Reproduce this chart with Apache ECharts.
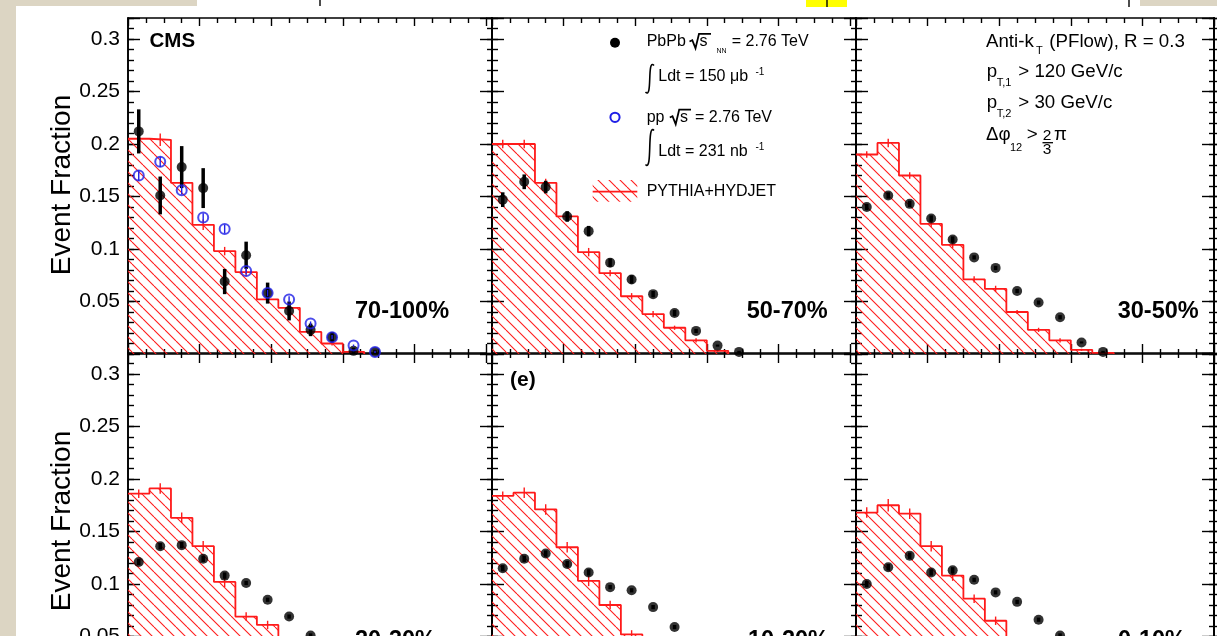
<!DOCTYPE html>
<html>
<head>
<meta charset="utf-8">
<script src="https://cdn.jsdelivr.net/npm/echarts@6/dist/echarts.min.js"></script>
<style>
  html, body { margin: 0; padding: 0; background: #dcd5c3; overflow: hidden; }
  #chart { width: 1217px; height: 720px; }
</style>
</head>
<body>
<div id="chart"></div>
<script>
// Dijet momentum imbalance A_J, bin centres (bin width 0.06)
const ajCenters = [0.03, 0.09, 0.15, 0.21, 0.27, 0.33, 0.39, 0.45, 0.51, 0.57, 0.63, 0.69];
const binWidth = 0.06;

const centralityLabels = ['70-100%', '50-70%', '30-50%', '20-30%', '10-20%', '0-10%'];

// PbPb data (event fraction) and statistical uncertainties per centrality class
const pbpb70100 = [0.212, 0.151, 0.178, 0.158, 0.069, 0.094, 0.058, 0.041, 0.023, 0.016, 0.003, 0.002];
const pbpbErr70100 = [0.021, 0.018, 0.020, 0.019, 0.012, 0.013, 0.010, 0.009, 0.006, 0.005, 0.003, 0.002];
const pbpb5070 = [0.147, 0.164, 0.159, 0.131, 0.117, 0.087, 0.071, 0.057, 0.039, 0.022, 0.008, 0.002];
const pbpbErr5070 = [0.007, 0.007, 0.006, 0.005, 0.005, 0.004, 0.004, 0.003, 0.003, 0.002, 0.001, 0.001];
const pbpb3050 = [0.140, 0.151, 0.143, 0.129, 0.109, 0.092, 0.082, 0.060, 0.049, 0.035, 0.011, 0.002];
const pbpbErr3050 = [0.003, 0.003, 0.003, 0.003, 0.003, 0.002, 0.002, 0.002, 0.002, 0.002, 0.001, 0.001];
const pbpb2030 = [0.121, 0.136, 0.137, 0.124, 0.108, 0.101, 0.085, 0.069, 0.051, 0.036, 0.020, 0.008];
const pbpbErr2030 = [0.003, 0.003, 0.003, 0.003, 0.003, 0.002, 0.002, 0.002, 0.002, 0.002, 0.001, 0.001];
const pbpb1020 = [0.115, 0.124, 0.129, 0.119, 0.111, 0.097, 0.094, 0.078, 0.059, 0.043, 0.024, 0.010];
const pbpbErr1020 = [0.003, 0.003, 0.003, 0.003, 0.003, 0.002, 0.002, 0.002, 0.002, 0.002, 0.001, 0.001];
const pbpb010 = [0.100, 0.116, 0.127, 0.111, 0.113, 0.104, 0.092, 0.083, 0.066, 0.051, 0.030, 0.012];
const pbpbErr010 = [0.003, 0.003, 0.003, 0.003, 0.003, 0.002, 0.002, 0.002, 0.002, 0.002, 0.001, 0.001];

// pp reference at the same energy
const pp276 = [0.170, 0.183, 0.156, 0.130, 0.119, 0.079, 0.058, 0.052, 0.029, 0.016, 0.008, 0.002];
const ppErr276 = [0.005, 0.005, 0.004, 0.004, 0.004, 0.003, 0.003, 0.003, 0.002, 0.002, 0.001, 0.001];

// PYTHIA+HYDJET simulation histograms
const mc70100 = [0.205, 0.204, 0.163, 0.123, 0.098, 0.078, 0.052, 0.044, 0.021, 0.010, 0.002];
const mcErr70100 = [0.005, 0.006, 0.005, 0.005, 0.004, 0.004, 0.003, 0.003, 0.002, 0.002, 0.001];
const mc5070 = [0.200, 0.200, 0.163, 0.131, 0.097, 0.077, 0.055, 0.038, 0.025, 0.013, 0.003];
const mcErr5070 = [0.004, 0.004, 0.004, 0.004, 0.004, 0.003, 0.003, 0.003, 0.002, 0.002, 0.001];
const mc3050 = [0.190, 0.201, 0.170, 0.124, 0.104, 0.071, 0.062, 0.040, 0.023, 0.013, 0.004, 0.001];
const mcErr3050 = [0.003, 0.004, 0.003, 0.003, 0.003, 0.003, 0.003, 0.002, 0.002, 0.002, 0.001, 0.001];
const mc2030 = [0.186, 0.191, 0.163, 0.136, 0.102, 0.069, 0.061, 0.040, 0.024, 0.012, 0.004, 0.001];
const mcErr2030 = [0.004, 0.005, 0.005, 0.005, 0.005, 0.004, 0.004, 0.003, 0.002, 0.002, 0.001, 0.001];
const mc1020 = [0.184, 0.187, 0.171, 0.135, 0.103, 0.080, 0.052, 0.035, 0.021, 0.010, 0.003, 0.001];
const mcErr1020 = [0.004, 0.005, 0.005, 0.005, 0.005, 0.004, 0.004, 0.003, 0.002, 0.002, 0.001, 0.001];
const mc010 = [0.168, 0.175, 0.167, 0.136, 0.108, 0.086, 0.065, 0.045, 0.027, 0.014, 0.005, 0.001];
const mcErr010 = [0.005, 0.006, 0.005, 0.005, 0.005, 0.004, 0.004, 0.003, 0.002, 0.002, 0.001, 0.001];

// Y-axis tick labels
const yTickLabels = ['0.05', '0.1', '0.15', '0.2', '0.25', '0.3'];

const panels = [
  { label: centralityLabels[0], pbpb: pbpb70100, pbpbErr: pbpbErr70100, mc: mc70100, mcErr: mcErr70100, withPP: true },
  { label: centralityLabels[1], pbpb: pbpb5070, pbpbErr: pbpbErr5070, mc: mc5070, mcErr: mcErr5070 },
  { label: centralityLabels[2], pbpb: pbpb3050, pbpbErr: pbpbErr3050, mc: mc3050, mcErr: mcErr3050 },
  { label: centralityLabels[3], pbpb: pbpb2030, pbpbErr: pbpbErr2030, mc: mc2030, mcErr: mcErr2030 },
  { label: centralityLabels[4], pbpb: pbpb1020, pbpbErr: pbpbErr1020, mc: mc1020, mcErr: mcErr1020 },
  { label: centralityLabels[5], pbpb: pbpb010, pbpbErr: pbpbErr010, mc: mc010, mcErr: mcErr010 }
];

const FONT = '"Liberation Sans", Arial, Helvetica, sans-serif';
const RED = '#ff1a1a';
const BLUE = '#1f1fe6';

// Red "\\\\" hatch used for the simulation histograms
function makeHatch() {
  const s = 11;
  const c = document.createElement('canvas');
  c.width = s; c.height = s;
  const ctx = c.getContext('2d');
  ctx.strokeStyle = RED;
  ctx.lineWidth = 1.1;
  for (let k = -1; k <= 1; k++) {
    ctx.beginPath();
    ctx.moveTo(k * s, 0);
    ctx.lineTo(k * s + s, s);
    ctx.stroke();
  }
  return c;
}
const hatch = { image: makeHatch(), repeat: 'repeat' };

const PANEL_W = 358, PANEL_H = 336, COL_STEP = 364, LEFT0 = 128;
const ROW_TOP = [18, 353];
const Y_MAX = 0.32;

const axisLine = { show: true, onZero: false, lineStyle: { color: '#000', width: 1.6 } };
const tickLine = { color: '#000', width: 1.4 };

function xAxisDef(g, position, majorLen, minorLen) {
  return {
    type: 'value', gridIndex: g, position, min: 0, max: 1, interval: 0.2,
    axisLine,
    axisTick: { show: true, inside: true, length: majorLen, lineStyle: tickLine },
    minorTick: { show: true, splitNumber: 4, length: minorLen, lineStyle: tickLine },
    axisLabel: { show: false }, splitLine: { show: false }, minorSplitLine: { show: false }
  };
}

function yAxisDef(g, position, interval, len, inside, labels) {
  return {
    type: 'value', gridIndex: g, position, offset: 0, min: 0, max: Y_MAX, interval,
    axisLine,
    axisTick: { show: true, inside, length: len, lineStyle: tickLine },
    axisLabel: labels ? {
      show: true, fontSize: 21, fontFamily: FONT, color: '#000', margin: 8,
      formatter: v => {
        const s = String(Math.round(v * 100) / 100);
        return yTickLabels.includes(s) ? s : '';
      }
    } : { show: false },
    splitLine: { show: false }
  };
}

const grids = [], xAxes = [], yAxes = [], series = [];

function errorBars(xi, yi, xs, ys, errs, color, width, z) {
  return {
    type: 'custom', xAxisIndex: xi, yAxisIndex: yi, z, silent: true,
    data: xs.map((x, i) => [x, ys[i] - errs[i], ys[i] + errs[i]]),
    encode: { x: 0, y: [1, 2] },
    renderItem(params, api) {
      const lo = api.coord([api.value(0), api.value(1)]);
      const hi = api.coord([api.value(0), api.value(2)]);
      return {
        type: 'line',
        shape: { x1: lo[0], y1: lo[1], x2: hi[0], y2: hi[1] },
        style: { stroke: color, lineWidth: width }
      };
    }
  };
}

panels.forEach((p, g) => {
  const col = g % 3, row = Math.floor(g / 3);
  grids.push({
    left: LEFT0 + COL_STEP * col, top: ROW_TOP[row], width: PANEL_W, height: PANEL_H,
    containLabel: false, outerBoundsMode: 'none'
  });

  const xi = xAxes.length;
  xAxes.push(xAxisDef(g, 'bottom', 10, 5));
  xAxes.push(xAxisDef(g, 'top', row === 0 ? 8 : 10, 5));

  const yi = yAxes.length;
  yAxes.push(yAxisDef(g, 'left', 0.05, 12, true, col === 0));
  yAxes.push(yAxisDef(g, 'left', 0.01, 6, true, false));
  if (col > 0) {
    yAxes.push(yAxisDef(g, 'left', 0.05, 12, false, false));
    yAxes.push(yAxisDef(g, 'left', 0.01, 5, false, false));
  }
  if (col === 2) {
    yAxes.push(yAxisDef(g, 'right', 0.05, 12, true, false));
    yAxes.push(yAxisDef(g, 'right', 0.01, 5, true, false));
    yAxes.push(yAxisDef(g, 'right', 0.05, 6, false, false));
    yAxes.push(yAxisDef(g, 'right', 0.01, 4, false, false));
  }

  // Simulation histogram as a hatched step outline
  const steps = p.mc.map((v, i) => [ajCenters[i] - binWidth / 2, v]);
  steps.push([ajCenters[p.mc.length - 1] + binWidth / 2, 0]);
  series.push({
    type: 'line', xAxisIndex: xi, yAxisIndex: yi, step: 'end', symbol: 'none', z: 2, silent: true,
    data: steps,
    lineStyle: { color: RED, width: 1.8 },
    areaStyle: { color: hatch, opacity: 1 }
  });
  series.push(errorBars(xi, yi, ajCenters.slice(0, p.mc.length), p.mc, p.mcErr, RED, 1.4, 3));

  // PbPb points
  series.push(errorBars(xi, yi, ajCenters, p.pbpb, p.pbpbErr, '#000', 3.5, 4));
  series.push({
    type: 'scatter', xAxisIndex: xi, yAxisIndex: yi, z: 5, silent: true,
    symbol: 'circle', symbolSize: 10,
    itemStyle: { color: '#000' },
    data: ajCenters.map((x, i) => [x, p.pbpb[i]])
  });

  // pp reference in the most peripheral panel
  if (p.withPP) {
    series.push(errorBars(xi, yi, ajCenters, pp276, ppErr276, BLUE, 1.4, 6));
    series.push({
      type: 'scatter', xAxisIndex: xi, yAxisIndex: yi, z: 7, silent: true,
      symbol: 'circle', symbolSize: 10,
      itemStyle: { color: 'rgba(0,0,0,0)', borderColor: BLUE, borderWidth: 2 },
      data: ajCenters.map((x, i) => [x, pp276[i]])
    });
  }
});

// ---- text helpers (baseline-positioned) ----
function txt(text, x, baseline, size, extra) {
  return {
    type: 'text', x, y: baseline - 0.347 * size, z: 20, silent: true,
    style: Object.assign({
      text, fontSize: size, fontFamily: FONT, fill: '#000',
      align: 'left', verticalAlign: 'middle'
    }, extra || {})
  };
}
function line(x1, y1, x2, y2, w, color) {
  return { type: 'line', z: 20, silent: true, shape: { x1, y1, x2, y2 }, style: { stroke: color || '#000', lineWidth: w } };
}
function poly(points, w, color) {
  return { type: 'polyline', z: 20, silent: true, shape: { points }, style: { stroke: color || '#000', lineWidth: w, fill: null } };
}
function integral(xTop, yTop, xBot, yBot) {
  const midX = (xTop + xBot) / 2;
  return {
    type: 'bezierCurve', z: 20, silent: true,
    shape: { x1: xTop, y1: yTop + 2, cpx1: midX - 3, cpy1: yTop - 6, cpx2: midX + 3, cpy2: yBot + 6, x2: xBot, y2: yBot - 2 },
    style: { stroke: '#000', lineWidth: 1.6, fill: null }
  };
}

const graphics = [
  // page background and strip above the figure
  { type: 'rect', z: 0, silent: true, shape: { x: 16, y: 6, width: 1201, height: 714 }, style: { fill: '#fff' } },
  { type: 'rect', z: 0, silent: true, shape: { x: 197, y: 0, width: 943, height: 6 }, style: { fill: '#fff' } },
  { type: 'rect', z: 1, silent: true, shape: { x: 806, y: 0, width: 41, height: 7 }, style: { fill: '#ffff00' } },
  line(320, 0, 320, 6, 1.4), line(827, 0, 827, 7, 1.4), line(1129, 0, 1129, 7, 1.4),

  // continuous frame lines across the gaps between panels
  line(LEFT0 + PANEL_W, 18, LEFT0 + COL_STEP, 18, 1.6),
  line(LEFT0 + COL_STEP + PANEL_W, 18, LEFT0 + 2 * COL_STEP, 18, 1.6),
  line(LEFT0 + PANEL_W, 354, LEFT0 + COL_STEP, 354, 1.6),
  line(LEFT0 + COL_STEP + PANEL_W, 354, LEFT0 + 2 * COL_STEP, 354, 1.6),

  // axis titles
  { type: 'text', x: 62, y: 185, rotation: Math.PI / 2, z: 20, silent: true,
    style: { text: 'Event Fraction', fontSize: 28, fontFamily: FONT, fill: '#000', align: 'center', verticalAlign: 'middle' } },
  { type: 'text', x: 62, y: 521, rotation: Math.PI / 2, z: 20, silent: true,
    style: { text: 'Event Fraction', fontSize: 28, fontFamily: FONT, fill: '#000', align: 'center', verticalAlign: 'middle' } },

  txt('CMS', 149.5, 48.3, 20.5, { fontWeight: 'bold' }),
  txt('(e)', 510, 387.5, 21, { fontWeight: 'bold' }),

  // centrality labels
  txt(centralityLabels[0], 355, 319.3, 23.5, { fontWeight: 'bold' }),
  txt(centralityLabels[1], 746.7, 319.3, 23.5, { fontWeight: 'bold' }),
  txt(centralityLabels[2], 1117.7, 319.3, 23.5, { fontWeight: 'bold' }),
  txt(centralityLabels[3], 355, 648.5, 23.5, { fontWeight: 'bold' }),
  txt(centralityLabels[4], 748, 648.5, 23.5, { fontWeight: 'bold' }),
  txt(centralityLabels[5], 1118, 648.5, 23.5, { fontWeight: 'bold' }),

  // legend
  { type: 'circle', z: 20, silent: true, shape: { cx: 615, cy: 42.7, r: 5 }, style: { fill: '#000' } },
  txt('PbPb', 646.7, 46.7, 16),
  poly([[689.5, 41.5], [692.3, 40.2], [695.5, 48.3], [699, 33.8], [711, 33.8]], 1.8),
  txt('s', 699.5, 46.7, 16),
  txt('NN', 716.5, 53, 7),
  txt('= 2.76 TeV', 731.7, 46.7, 16),
  integral(654, 63.5, 645.5, 94),
  txt('Ldt = 150 \u03bcb', 658.3, 81.7, 16),
  txt('-1', 755.5, 75.5, 10),

  { type: 'circle', z: 20, silent: true, shape: { cx: 615, cy: 117.3, r: 4.6 }, style: { fill: null, stroke: BLUE, lineWidth: 2 } },
  txt('pp', 646.7, 122.7, 16),
  poly([[669.8, 117.5], [672.5, 116.2], [675.7, 124.3], [679.2, 109.6], [691, 109.6]], 1.8),
  txt('s', 680, 122.7, 16),
  txt('= 2.76 TeV', 695, 122.7, 16),
  integral(654, 128.5, 645.5, 166.5),
  txt('Ldt = 231 nb', 658.3, 156.7, 16),
  txt('-1', 755.5, 150.5, 10),

  { type: 'rect', z: 20, silent: true, shape: { x: 592.7, y: 180, width: 44.6, height: 21.7 }, style: { fill: hatch } },
  line(592.7, 191.7, 637.3, 191.7, 1.8, RED),
  txt('PYTHIA+HYDJET', 646.7, 196.7, 16),

  // jet selection
  txt('Anti-k', 986, 48.3, 18.7),
  txt('T', 1036, 54.5, 11),
  txt('(PFlow), R = 0.3', 1049.3, 48.3, 18.7),
  txt('p', 986.7, 78.3, 18.7),
  txt('T,1', 996.7, 86.5, 11),
  txt('> 120 GeV/c', 1018.3, 78.3, 18.7),
  txt('p', 986.7, 109.3, 18.7),
  txt('T,2', 996.7, 117.5, 11),
  txt('> 30 GeV/c', 1018.3, 109.3, 18.7),
  txt('\u0394\u03c6', 986, 141.7, 18.7),
  txt('12', 1010, 152, 11),
  txt('>', 1026.7, 141.7, 18.7),
  txt('2', 1042.7, 141.3, 15.5),
  line(1042.5, 142.7, 1053, 142.7, 1.3),
  txt('3', 1042.7, 155, 15.5),
  txt('\u03c0', 1054, 141.7, 18.7)
];

const chart = echarts.init(document.getElementById('chart'), null, { renderer: 'canvas' });
chart.setOption({
  backgroundColor: 'transparent',
  animation: false,
  grid: grids,
  xAxis: xAxes,
  yAxis: yAxes,
  series,
  graphic: { elements: graphics }
});
</script>
</body>
</html>
